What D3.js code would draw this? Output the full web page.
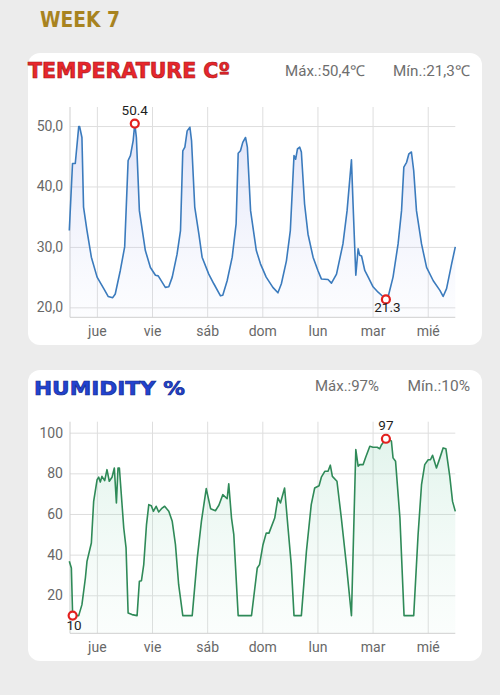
<!DOCTYPE html>
<html>
<head>
<meta charset="utf-8">
<script src="https://cdn.jsdelivr.net/npm/d3@7"></script>
<style>
  body { margin: 0; background: #ececec; }
  svg { display: block; }
</style>
</head>
<body>
<div id="chart"></div>
<script>
// Day labels and where each day starts (hours from Wed 12:00)
const dayLabels = ['jue', 'vie', 'sáb', 'dom', 'lun', 'mar', 'mié'];
const dayTickHours = [12, 36, 60, 84, 108, 132, 156];

// Temperature readings (hours since start, °C)
const tempHours = [0,1.4,2.6,4.1,4.5,5.5,6.2,7.7,9.6,12.1,15,16.9,18.9,20,22.2,24.1,25.6,26.6,27.8,28.5,29.2,30.5,33.1,35.3,37.5,38.7,41.8,43.3,44.8,46.9,48.4,49.4,50.3,51.3,52.5,53.2,54.6,56.4,57.8,60.7,62.9,65.8,66.8,68.7,70.9,72.6,73.5,74.5,75.5,76.7,77.5,78.9,81.4,83.2,85.7,88.6,90.8,92.3,94.5,96.2,97.8,98.5,99.3,100.3,101,102.4,103.9,106.1,108.2,109.7,112.6,114.1,116.3,119.1,120.9,122.8,123.5,124.7,125.7,126.4,127.2,128.6,130.1,132.2,134.4,135.9,137.8,138.8,140.9,143.1,144.6,145.6,146.8,147.8,148.9,149.9,151.1,153.3,155.5,158.4,161.3,162.7,164.2,166.4,168];
const tempValues = [32.7,43.8,43.8,49.9,49.9,48.1,36.6,32.7,28.3,25.0,23.1,21.8,21.6,22.2,26.1,30.0,44.3,45.1,47.6,50.4,48.1,36.0,29.4,26.6,25.3,25.2,23.3,23.4,25.0,28.8,32.7,45.9,46.5,49.2,49.8,47.6,36.6,32.1,28.3,25.5,23.9,21.9,22.0,24.4,28.3,33.8,45.5,45.9,47.3,48.1,46.5,36.0,29.4,27.2,25.0,23.3,22.4,23.9,27.7,32.7,45.1,44.5,46.2,46.5,45.7,37.1,32.1,28.3,26.1,24.7,24.6,24.0,25.5,30.5,36.0,44.4,37.1,25.3,29.7,28.6,28.5,26.1,25.0,23.4,22.5,22.0,21.3,21.8,25.0,30.5,36.0,43.2,44.0,45.4,45.7,42.6,36.0,30.5,26.6,24.4,22.8,21.8,23.1,27.2,30.0];
const tempTicks = [20, 30, 40, 50];

// Humidity readings (hours since start, %)
const humHours = [0,0.9,1.45,4.1,5.5,7,7.7,9.6,10.6,12.1,12.8,13.5,14.2,15.4,16.4,17.4,18.6,19.6,20.5,21.2,21.8,23.7,24.7,25.6,27.3,29.5,30.5,31.4,32.4,33.6,34.6,35.7,36.6,37.8,38.9,40.4,41.5,43.3,44.8,46.2,47.6,49.4,53.5,55.7,57.5,59.6,61.5,63.6,65.1,66.8,68.7,69.4,70.6,71.6,73.5,79.3,81.8,82.8,84.3,85.7,86.9,89.4,90.8,91.9,93.7,95.2,96.6,97.8,101,103.2,105.3,106.8,108.7,109.7,111.2,112.6,113.6,114.5,116.5,118.4,120.6,122.8,124.7,125.7,126.4,127.9,129,130.8,132.2,134,135.1,135.9,137.8,139.5,140.2,140.9,142,143.9,145.7,149.9,151.8,153.3,154.7,156.2,157.2,158.1,159.8,161.3,162.7,163.9,165.6,166.8,168];
const humValues = [36.7,33.4,10,10,15.4,28.5,36.7,45.7,66.2,76.9,78.1,75.7,78.5,76.4,81.8,76.1,78.1,82.6,65.4,82.6,82.6,53.1,43.3,11.3,10.5,10,26.9,27.2,35.1,54.8,64.6,64.1,61.3,63.8,61.0,62.9,63.8,61.3,56.4,44.9,25.2,10,10,38.4,56.4,72.5,62.6,61.6,64.3,69.5,67.5,74.8,58.0,49.8,10,10,33.4,35.1,44.9,50.6,50.6,58.0,67.9,65.4,72.8,53.1,35.1,10,10,41.6,64.6,72.8,73.9,78.1,81.0,81.0,84.0,78.5,76.1,58.0,35.1,10,91.7,83.5,84.3,84.3,87.9,93.3,92.8,92.8,92.1,94.1,97,96.5,95.8,87.6,85.9,58.0,10,10,49.8,74.4,84.3,86.7,86.7,88.9,82.6,87.6,92.5,92.1,78.5,66.2,61.3];
const humTicks = [20, 40, 60, 80, 100];

const svg = d3.select('#chart')
  .append('svg')
  .attr('width', 500)
  .attr('height', 695);

const defs = svg.append('defs');

svg.append('rect')
  .attr('width', 500).attr('height', 695)
  .attr('fill', '#ececec');

// Page heading
svg.append('text')
  .attr('x', 40).attr('y', 27.3)
  .attr('font-family', 'DejaVu Sans')
  .attr('font-weight', 'bold')
  .attr('font-size', 21)
  .attr('fill', '#a8831f')
  .attr('textLength', 80)
  .attr('lengthAdjust', 'spacingAndGlyphs')
  .text('WEEK 7');

const commaFmt = d3.format('.1f');

drawPanel({
  id: 'temp',
  card: { x: 28, y: 53, w: 454, h: 292 },
  title: 'TEMPERATURE Cº',
  titleX: 28, titleY: 78, titleLen: 202, titleSize: 22,
  titleFill: '#e8262c', titleStroke: '#a81a1a',
  statsY: 76,
  maxX: 285, maxLen: 80, minX: 393, minLen: 77,
  statText: v => commaFmt(v).replace('.', ',') + '℃',
  hours: tempHours, values: tempValues,
  yDomain: [18.35, 53.15], top: 107, bottom: 317.3,
  ticks: tempTicks, tickFmt: v => commaFmt(v).replace('.', ','),
  lineColor: '#3b7bbd',
  gradTop: 'rgba(120,135,225,0.26)', gradBottom: 'rgba(200,210,245,0.05)',
  pointLabel: v => commaFmt(v),
  minLabelDy: 13
});

drawPanel({
  id: 'hum',
  card: { x: 28, y: 370, w: 454, h: 291 },
  title: 'HUMIDITY %',
  titleX: 34, titleY: 395, titleLen: 151, titleSize: 20,
  titleFill: '#2243d0', titleStroke: '#13298f',
  statsY: 391,
  maxX: 315, maxLen: 64, minX: 407.5, minLen: 62.5,
  statText: v => d3.format('d')(v) + '%',
  hours: humHours, values: humValues,
  yDomain: [1.3, 105.4], top: 421.7, bottom: 633.3,
  ticks: humTicks, tickFmt: d3.format('d'),
  lineColor: '#2f8a58',
  gradTop: 'rgba(110,200,160,0.22)', gradBottom: 'rgba(200,235,220,0.08)',
  pointLabel: d3.format('d'),
  minLabelDy: 14
});

function drawPanel(o) {
  const c = o.card;
  svg.append('rect')
    .attr('x', c.x).attr('y', c.y)
    .attr('width', c.w).attr('height', c.h)
    .attr('rx', 12)
    .attr('fill', '#ffffff');

  // Header title
  svg.append('text')
    .attr('x', o.titleX).attr('y', o.titleY)
    .attr('font-family', 'DejaVu Sans')
    .attr('font-weight', 'bold')
    .attr('font-size', o.titleSize)
    .attr('fill', o.titleFill)
    .attr('stroke', o.titleStroke)
    .attr('stroke-width', 0.7)
    .attr('textLength', o.titleLen)
    .attr('lengthAdjust', 'spacingAndGlyphs')
    .text(o.title);

  const data = o.hours.map((h, i) => ({ h: h, v: o.values[i] }));
  const iMax = d3.maxIndex(data, d => d.v);
  const iMin = d3.minIndex(data, d => d.v);

  const statStyle = sel => sel
    .attr('font-family', 'Roboto, sans-serif')
    .attr('font-size', 15)
    .attr('fill', '#6e6e6e')
    .attr('lengthAdjust', 'spacingAndGlyphs');

  svg.append('text').call(statStyle)
    .attr('x', o.maxX).attr('y', o.statsY)
    .attr('textLength', o.maxLen)
    .text('Máx.:' + o.statText(data[iMax].v));
  svg.append('text').call(statStyle)
    .attr('x', o.minX).attr('y', o.statsY)
    .attr('textLength', o.minLen)
    .text('Mín.:' + o.statText(data[iMin].v));

  const x = d3.scaleLinear().domain([0, 168]).range([69.3, 455.3]);
  const y = d3.scaleLinear().domain(o.yDomain).range([o.bottom, o.top]);
  const left = 70, right = 455.3;

  const g = svg.append('g');

  // horizontal grid + y labels
  const yAxis = g.append('g')
    .attr('transform', `translate(${left},0)`)
    .call(d3.axisLeft(y).tickValues(o.ticks).tickFormat(o.tickFmt)
      .tickSize(-(right - left)).tickPadding(7));
  yAxis.select('.domain').remove();
  yAxis.selectAll('line').attr('stroke', '#dedede');
  yAxis.selectAll('text')
    .attr('font-family', 'Roboto, sans-serif')
    .attr('font-size', 14)
    .attr('fill', '#686868');

  // vertical day grid + x labels
  const xAxis = g.append('g')
    .attr('transform', `translate(0,${o.bottom})`)
    .call(d3.axisBottom(x).tickValues(dayTickHours)
      .tickFormat((d, i) => dayLabels[i])
      .tickSize(-(o.bottom - o.top)).tickPadding(9));
  xAxis.select('.domain').remove();
  xAxis.selectAll('line').attr('stroke', '#dedede');
  xAxis.selectAll('text')
    .attr('font-family', 'Roboto, sans-serif')
    .attr('font-size', 14)
    .attr('fill', '#686868');

  // axis lines
  g.append('line')
    .attr('x1', left).attr('x2', left)
    .attr('y1', o.top).attr('y2', o.bottom)
    .attr('stroke', '#cfcfcf');
  g.append('line')
    .attr('x1', left).attr('x2', right)
    .attr('y1', o.bottom).attr('y2', o.bottom)
    .attr('stroke', '#cfcfcf');

  // area gradient
  const grad = defs.append('linearGradient')
    .attr('id', 'grad-' + o.id)
    .attr('gradientUnits', 'userSpaceOnUse')
    .attr('x1', 0).attr('x2', 0)
    .attr('y1', o.top).attr('y2', o.bottom);
  grad.append('stop').attr('offset', 0).attr('stop-color', o.gradTop);
  grad.append('stop').attr('offset', 1).attr('stop-color', o.gradBottom);

  const area = d3.area()
    .x(d => x(d.h))
    .y0(o.bottom)
    .y1(d => y(d.v));
  const line = d3.line()
    .x(d => x(d.h))
    .y(d => y(d.v));

  g.append('path')
    .datum(data)
    .attr('d', area)
    .attr('fill', `url(#grad-${o.id})`);
  g.append('path')
    .datum(data)
    .attr('d', line)
    .attr('fill', 'none')
    .attr('stroke', o.lineColor)
    .attr('stroke-width', 1.6)
    .attr('stroke-linejoin', 'round');

  // max / min markers
  [[iMax, -9], [iMin, o.minLabelDy]].forEach(([i, dy]) => {
    const d = data[i];
    const cx = x(d.h), cy = y(d.v);
    g.append('circle')
      .attr('cx', cx).attr('cy', cy).attr('r', 4)
      .attr('fill', '#ffffff')
      .attr('stroke', '#e3211f')
      .attr('stroke-width', 2.2);
    g.append('text')
      .attr('x', cx + (dy > 0 ? 1.5 : 0)).attr('y', cy + dy)
      .attr('text-anchor', 'middle')
      .attr('font-family', 'Roboto, sans-serif')
      .attr('font-size', 13.5)
      .attr('fill', '#1e1e1e')
      .text(o.pointLabel(d.v));
  });
}
</script>
</body>
</html>
